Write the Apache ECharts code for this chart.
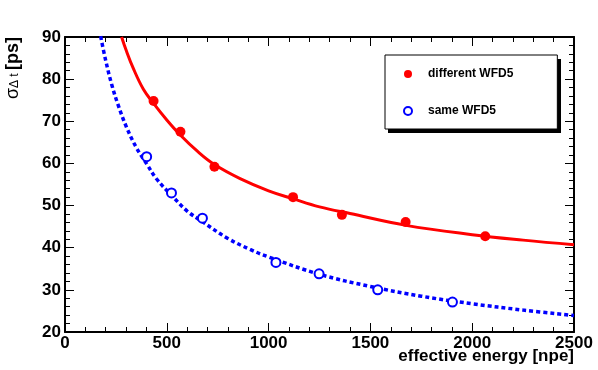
<!DOCTYPE html>
<html>
<head>
<meta charset="utf-8">
<script src="https://cdn.jsdelivr.net/npm/echarts@6.0.0/dist/echarts.min.js"></script>
<style>
  html, body { margin: 0; padding: 0; background: #fff; }
  #main { width: 598px; height: 370px; }
</style>
</head>
<body>
<div id="main"></div>
<script>
// measured points [energy npe, sigma ps]
var diffPoints = [[435, 74.8], [567, 67.5], [734, 59.2], [1120, 52.0], [1360, 47.8], [1673, 46.1], [2064, 42.7]];
var samePoints = [[401, 61.6], [523, 53.0], [675, 47.0], [1036, 36.5], [1248, 33.8], [1536, 30.0], [1903, 27.1]];

// fit curves
var diffFit = [[278, 90.0], [300, 86.9], [335, 82.6], [385, 77.6], [434, 74.3], [500, 70.3], [565, 66.8],
  [650, 62.9], [732, 59.8], [860, 56.4], [1000, 53.5], [1121, 51.6], [1250, 49.7], [1400, 48.1],
  [1675, 45.3], [2000, 43.1], [2250, 41.8], [2500, 40.7]];
var sameFit = [[175, 90.2], [200, 84.4], [229, 78.8], [260, 74.0], [303, 68.5], [350, 63.8], [401, 59.9],
  [450, 56.3], [524, 52.4], [600, 48.7], [671, 46.3], [800, 42.2], [909, 39.6], [1000, 37.8],
  [1250, 33.7], [1500, 30.8], [1750, 28.5], [2000, 26.7], [2250, 25.2], [2500, 23.9]];

var xRange = [0, 2500, 500];
var yRange = [20, 90, 10];

var FONT = 'Liberation Sans';
var chart = echarts.init(document.getElementById('main'));

function frameAxis(pos, range, labels) {
  return {
    type: 'value',
    position: pos,
    min: range[0], max: range[1], interval: range[2],
    axisLine: { show: true, onZero: false, lineStyle: { color: '#000', width: 2 } },
    axisTick: { show: true, inside: true, length: 9, lineStyle: { color: '#000', width: 1 } },
    minorTick: { show: true, splitNumber: 5, length: 5, lineStyle: { color: '#000', width: 1 } },
    splitLine: { show: false },
    axisLabel: { show: labels, color: '#000', fontFamily: FONT, fontWeight: 'bold', fontSize: 17, margin: 4,
      formatter: function (v) { return String(v); } }
  };
}

var xBottom = frameAxis('bottom', xRange, true);
xBottom.name = 'effective energy [npe]';
xBottom.nameLocation = 'end';
xBottom.nameGap = 0;
xBottom.nameMoveOverlap = false;
xBottom.nameTextStyle = { color: '#000', fontFamily: FONT, fontWeight: 'bold', fontSize: 17,
  align: 'right', verticalAlign: 'top', padding: [16, 0, 0, 0] };
xBottom.axisLabel.margin = 3;

var yLeft = frameAxis('left', yRange, true);
yLeft.name = '{s|σ}{sub|Δ t} {n|[ps]}';
yLeft.nameLocation = 'end';
yLeft.nameRotate = 90;
yLeft.nameGap = 0;
yLeft.nameMoveOverlap = false;
yLeft.nameTextStyle = {
  align: 'right', verticalAlign: 'bottom', padding: [0, 0, 43, 0],
  rich: {
    s: { fontFamily: FONT, fontSize: 18, color: '#000' },
    sub: { fontFamily: FONT, fontSize: 12, color: '#000', padding: [0, 0, -4, 0] },
    n: { fontFamily: FONT, fontWeight: 'bold', fontSize: 18, color: '#000' }
  }
};

var option = {
  animation: false,
  backgroundColor: '#fff',
  grid: { left: 65, right: 24, top: 37, bottom: 38, containLabel: false, outerBoundsMode: 'none' },
  xAxis: [xBottom, frameAxis('top', xRange, false)],
  yAxis: [yLeft, frameAxis('right', yRange, false)],
  // drop shadow behind the legend box
  graphic: [{
    type: 'rect', z: 1, silent: true,
    shape: { x: 388, y: 59, width: 173, height: 74 },
    style: { fill: '#000' }
  }],
  legend: {
    orient: 'vertical',
    left: 385, top: 55, z: 5,
    data: ['different WFD5', 'same WFD5'],
    backgroundColor: '#fff',
    borderColor: '#000', borderWidth: 1,
    padding: [13, 44, 12, 18],
    itemGap: 25, itemWidth: 30, itemHeight: 8,
    textStyle: { color: '#000', fontFamily: FONT, fontWeight: 'bold', fontSize: 12 }
  },
  series: [
    {
      name: 'fit different', type: 'line', data: diffFit, showSymbol: false, symbol: 'none',
      smooth: 0.4, clip: true, z: 2,
      lineStyle: { color: '#ff0000', width: 3 }
    },
    {
      name: 'fit same', type: 'line', data: sameFit, showSymbol: false, symbol: 'none',
      smooth: 0.4, clip: true, z: 2,
      lineStyle: { color: '#0000ff', width: 3.5, type: [4, 3] }
    },
    {
      name: 'different WFD5', type: 'scatter', data: diffPoints, symbol: 'circle', symbolSize: 10, z: 3,
      itemStyle: { color: '#ff0000', opacity: 1 }
    },
    {
      name: 'same WFD5', type: 'scatter', data: samePoints, symbol: 'emptyCircle', symbolSize: 9, z: 3,
      itemStyle: { color: '#0000ff', borderWidth: 1.2, opacity: 1 }
    }
  ]
};
chart.setOption(option);
</script>
</body>
</html>
